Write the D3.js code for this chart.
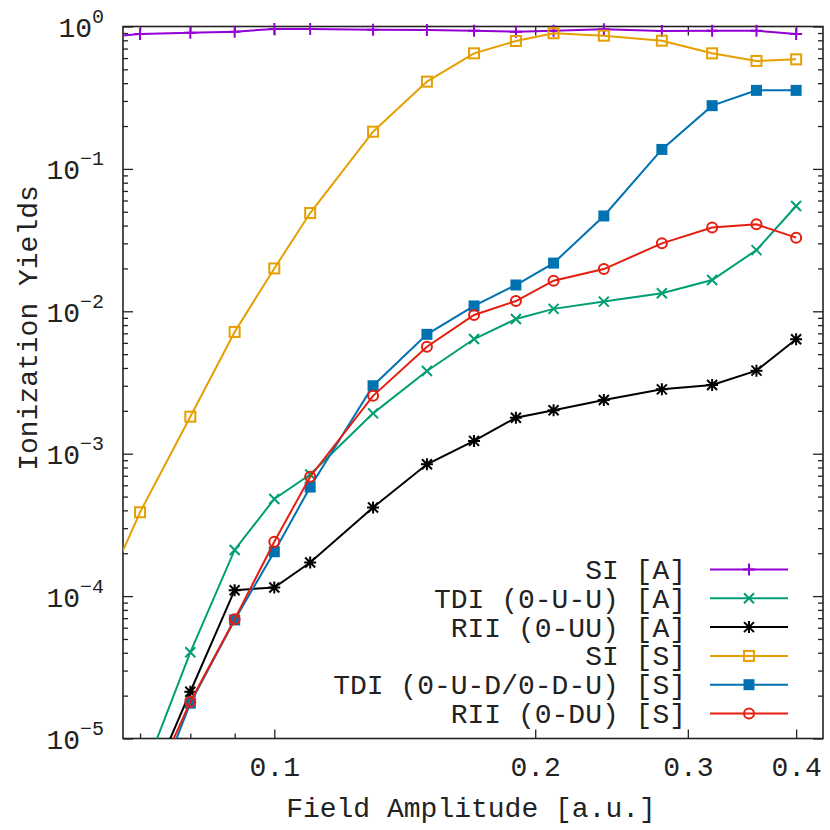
<!DOCTYPE html>
<html>
<head>
<meta charset="utf-8">
<script src="https://cdn.jsdelivr.net/npm/d3@7"></script>
<style>
  body { margin: 0; background: #fff; }
  text { font-family: "Liberation Mono", "DejaVu Sans Mono", monospace; fill: #222; }
</style>
</head>
<body>
<svg id="svg" width="830" height="830"></svg>
<script>
let svg = d3.select("#svg");

// field amplitude (a.u.)
let fieldAmp = [0.06, 0.07, 0.08, 0.09, 0.10, 0.11, 0.13, 0.15, 0.17, 0.19, 0.21, 0.24, 0.28, 0.32, 0.36, 0.40];

let siA  = [0.81, 0.886, 0.905, 0.92, 0.96, 0.96, 0.95, 0.945, 0.934, 0.92, 0.934, 0.956, 0.93, 0.934, 0.934, 0.886];
let tdiA = [null, 4.9e-6, 4.03e-5, 2.11e-4, 4.81e-4, 7.14e-4, 1.92e-3, 3.81e-3, 6.39e-3, 8.83e-3, 1.04e-2, 1.17e-2, 1.34e-2, 1.66e-2, 2.69e-2, 5.49e-2];
let riiA = [null, 3.2e-6, 2.13e-5, 1.10e-4, 1.15e-4, 1.72e-4, 4.19e-4, 8.43e-4, 1.23e-3, 1.79e-3, 2.02e-3, 2.38e-3, 2.83e-3, 3.04e-3, 3.83e-3, 6.36e-3];
let siS  = [4.7e-5, 3.88e-4, 1.82e-3, 7.16e-3, 2.0e-2, 4.9e-2, 0.1825, 0.41, 0.648, 0.791, 0.896, 0.862, 0.795, 0.648, 0.573, 0.588];
let tdiS = [null, 2.2e-6, 1.77e-5, 6.8e-5, 2.05e-4, 5.83e-4, 3.0e-3, 6.89e-3, 1.09e-2, 1.53e-2, 2.18e-2, 4.67e-2, 0.137, 0.278, 0.356, 0.356];
let riiS = [null, 3.0e-6, 1.81e-5, 6.87e-5, 2.41e-4, 6.89e-4, 2.55e-3, 5.64e-3, 9.42e-3, 1.18e-2, 1.64e-2, 1.98e-2, 3.0e-2, 3.87e-2, 4.08e-2, 3.29e-2];

let seriesNames = ["SI [A]", "TDI (0-U-U) [A]", "RII (0-UU) [A]", "SI [S]", "TDI (0-U-D/0-D-U) [S]", "RII (0-DU) [S]"];
let seriesValues = [siA, tdiA, riiA, siS, tdiS, riiS];
let colors = ["#9400d3", "#009e73", "#000000", "#e69f00", "#0072b2", "#e51e10"];
let markers = ["plus", "cross", "star", "square", "fsquare", "circle"];

let xTicks = [0.1, 0.2, 0.3, 0.4];
let xMinor = [0.07, 0.08, 0.09];
let yDecades = [-5, -4, -3, -2, -1, 0];

let L = 123, R = 823, T = 26.5, B = 738.5;
let x = d3.scaleLog().domain([0.0669, 0.4296]).range([L, R]);
let y = d3.scaleLog().domain([1e-5, 1]).range([B, T]);

let yMinor = [];
yDecades.slice(0, -1).forEach(e => {
  for (let k = 2; k <= 9; k++) yMinor.push(k * Math.pow(10, e));
});

/* Ticks */
function ticks(axis, pos) {
  let g = svg.append("g").attr("transform", pos).call(axis);
  g.select(".domain").remove();
  g.selectAll(".tick line").attr("stroke", "#222").attr("stroke-width", 1.3);
  return g;
}

let bottom = ticks(d3.axisBottom(x).tickValues(xTicks).tickSize(-9).tickPadding(18)
  .tickFormat(d3.format(".1f")), `translate(0,${B})`);
bottom.selectAll("text").attr("font-size", 28).attr("font-family", null).attr("fill", "#222");
ticks(d3.axisBottom(x).tickValues(xMinor).tickSize(-5).tickFormat(""), `translate(0,${B})`);
ticks(d3.axisTop(x).tickValues(xTicks).tickSize(-9).tickFormat(""), `translate(0,${T})`);
ticks(d3.axisTop(x).tickValues(xMinor).tickSize(-5).tickFormat(""), `translate(0,${T})`);

let left = ticks(d3.axisLeft(y).tickValues(yDecades.map(e => Math.pow(10, e))).tickSize(-10).tickFormat(""), `translate(${L},0)`);
ticks(d3.axisLeft(y).tickValues(yMinor).tickSize(-5).tickFormat(""), `translate(${L},0)`);
ticks(d3.axisRight(y).tickValues(yDecades.map(e => Math.pow(10, e))).tickSize(-10).tickFormat(""), `translate(${R},0)`);
ticks(d3.axisRight(y).tickValues(yMinor).tickSize(-5).tickFormat(""), `translate(${R},0)`);

/* y tick labels as 10^n */
left.selectAll(".tick").each(function(d) {
  let t = d3.select(this).select("text")
    .attr("x", -19).attr("dy", null).attr("y", 10)
    .attr("text-anchor", "end").attr("font-family", null).attr("font-size", 28).attr("fill", "#222");
  t.text(null);
  t.append("tspan").text("10");
  t.append("tspan").attr("font-size", 20).attr("dy", -14).text(Math.round(Math.log10(d)));
});
left.selectAll(".tick text").each(function() {
  // minus sign as in gnuplot
  d3.select(this).selectAll("tspan").filter((d, i) => i === 1)
    .text(function() { return this.textContent.replace("-", "\u2212"); });
});

/* Border */
svg.append("rect")
  .attr("x", L).attr("y", T).attr("width", R - L).attr("height", B - T)
  .attr("fill", "none").attr("stroke", "#222").attr("stroke-width", 1.6);

/* Axis labels */
svg.append("text")
  .attr("x", (L + R) / 2 - 2).attr("y", 817)
  .attr("text-anchor", "middle").attr("font-size", 28)
  .text("Field Amplitude [a.u.]");

svg.append("text")
  .attr("transform", "translate(37,328) rotate(-90)")
  .attr("text-anchor", "middle").attr("font-size", 28)
  .text("Ionization Yields");

/* Markers */
function marker(g, type, color, cx, cy) {
  if (type === "plus") {
    g.append("path").attr("d", `M${cx - 6},${cy}H${cx + 6}M${cx},${cy - 6}V${cy + 6}`)
      .attr("stroke", color).attr("stroke-width", 2);
  } else if (type === "cross") {
    g.append("path").attr("d", `M${cx - 5},${cy - 5}L${cx + 5},${cy + 5}M${cx - 5},${cy + 5}L${cx + 5},${cy - 5}`)
      .attr("stroke", color).attr("stroke-width", 2);
  } else if (type === "star") {
    g.append("path").attr("d", `M${cx - 6},${cy}H${cx + 6}M${cx},${cy - 6}V${cy + 6}M${cx - 5},${cy - 5}L${cx + 5},${cy + 5}M${cx - 5},${cy + 5}L${cx + 5},${cy - 5}`)
      .attr("stroke", color).attr("stroke-width", 2);
  } else if (type === "square") {
    g.append("rect").attr("x", cx - 5).attr("y", cy - 5).attr("width", 10).attr("height", 10)
      .attr("fill", "none").attr("stroke", color).attr("stroke-width", 2);
  } else if (type === "fsquare") {
    g.append("rect").attr("x", cx - 5.5).attr("y", cy - 5.5).attr("width", 11).attr("height", 11)
      .attr("fill", color);
  } else {
    g.append("circle").attr("cx", cx).attr("cy", cy).attr("r", 5)
      .attr("fill", "none").attr("stroke", color).attr("stroke-width", 2);
  }
}

/* Series */
svg.append("clipPath").attr("id", "clip")
  .append("rect").attr("x", L).attr("y", T).attr("width", R - L).attr("height", B - T);

let line = d3.line()
  .defined(d => d[1] != null)
  .x(d => x(d[0]))
  .y(d => y(d[1]));

seriesValues.forEach((vals, i) => {
  let pts = fieldAmp.map((f, j) => [f, vals[j]]);
  let g = svg.append("g");
  g.append("path")
    .attr("d", line(pts))
    .attr("clip-path", "url(#clip)")
    .attr("fill", "none")
    .attr("stroke", colors[i])
    .attr("stroke-width", 2);
  pts.filter(p => p[1] != null && p[0] >= x.domain()[0] && p[1] >= 1e-5)
    .forEach(p => marker(g, markers[i], colors[i], x(p[0]), y(p[1])));
});

/* Legend */
let legend = svg.append("g");
seriesNames.forEach((name, i) => {
  let ly = 569.5 + i * 28.8;
  legend.append("text")
    .attr("x", 686).attr("y", ly + 9.5)
    .attr("text-anchor", "end").attr("font-size", 28)
    .text(name);
  legend.append("line")
    .attr("x1", 710).attr("x2", 788).attr("y1", ly).attr("y2", ly)
    .attr("stroke", colors[i]).attr("stroke-width", 2);
  marker(legend, markers[i], colors[i], 749, ly);
});
</script>
</body>
</html>
